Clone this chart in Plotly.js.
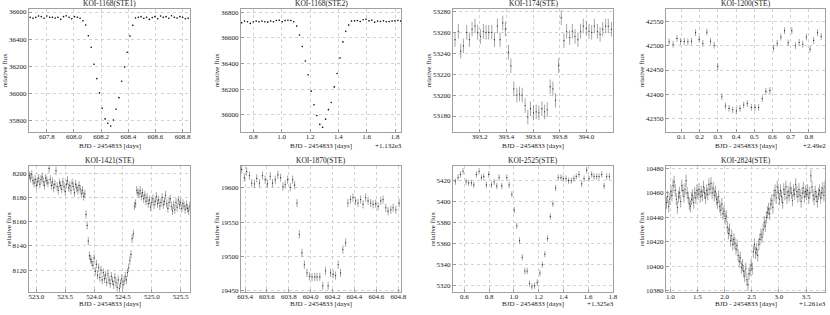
<!DOCTYPE html>
<html>
<head>
<meta charset="utf-8">
<script src="https://cdn.plot.ly/plotly-3.0.1.min.js"></script>
<style>html,body{margin:0;padding:0;background:#fff;}#chart{width:830px;height:315px;}</style>
</head>
<body>
<div id="chart"></div>
<script>
// ---------------- DATA ----------------
const titles = ['KOI-1168(STE1)','KOI-1168(STE2)','KOI-1174(STE)','KOI-1200(STE)',
                'KOI-1421(STE)','KOI-1870(STE)','KOI-2525(STE)','KOI-2824(STE)'];
const xLabel = 'BJD - 2454833 [days]';
const yLabel = 'relative flux';
const xOffsets = ['', '+1.132e3', '', '+2.49e2', '', '', '+1.325e3', '+1.261e3'];

const t1 = [607.678,607.698,607.719,607.739,607.760,607.780,607.800,607.821,607.841,607.862,607.882,607.902,607.923,607.943,607.964,607.984,608.004,608.025,608.045,608.066,608.086,608.106,608.127,608.147,608.168,608.188,608.208,608.229,608.249,608.270,608.290,608.310,608.331,608.351,608.372,608.392,608.412,608.433,608.453,608.474,608.494,608.514,608.535,608.555,608.576,608.596,608.616,608.637,608.657,608.678,608.698,608.718,608.739,608.759,608.780,608.800,608.820,608.841];
const f1 = [36561,36554,36561,36571,36566,36554,36571,36561,36561,36556,36561,36546,36566,36573,36561,36551,36566,36561,36554,36536,36505,36426,36341,36216,36111,36006,35893,35815,35783,35763,35807,35886,35971,36091,36196,36304,36424,36502,36556,36561,36566,36554,36561,36546,36559,36566,36551,36571,36561,36566,36554,36573,36561,36556,36566,36561,36551,36554];

const t2 = [0.718,0.738,0.759,0.779,0.800,0.820,0.840,0.861,0.881,0.902,0.922,0.942,0.963,0.983,1.004,1.024,1.044,1.065,1.085,1.106,1.126,1.146,1.167,1.187,1.208,1.228,1.248,1.269,1.289,1.310,1.330,1.350,1.371,1.391,1.412,1.432,1.452,1.473,1.493,1.514,1.534,1.554,1.575,1.595,1.616,1.636,1.656,1.677,1.697,1.718,1.738,1.758,1.779,1.799,1.820,1.840];
const f2 = [36718,36731,36726,36713,36726,36731,36726,36731,36726,36723,36731,36726,36736,36738,36726,36736,36738,36736,36726,36692,36623,36533,36420,36313,36185,36079,35995,35926,35903,35967,36041,36097,36218,36323,36444,36569,36651,36700,36731,36733,36736,36728,36741,36746,36733,36738,36723,36731,36728,36733,36726,36728,36731,36733,36736,36731];

const t3 = [393.015,393.040,393.058,393.078,393.103,393.123,393.143,393.165,393.185,393.206,393.228,393.248,393.268,393.291,393.311,393.333,393.353,393.373,393.393,393.416,393.434,393.456,393.479,393.499,393.519,393.541,393.561,393.581,393.604,393.624,393.644,393.667,393.687,393.707,393.729,393.749,393.769,393.792,393.812,393.832,393.852,393.875,393.895,393.915,393.937,393.957,393.977,394.000,394.020,394.040,394.060,394.083,394.103,394.123,394.145,394.165,394.188];
const f3 = [53253,53261,53242,53247,53260,53253,53263,53266,53260,53256,53261,53260,53260,53260,53253,53266,53253,53269,53263,53241,53228,53206,53200,53201,53200,53190,53179,53187,53183,53184,53183,53187,53184,53186,53208,53206,53195,53228,53274,53252,53261,53255,53261,53256,53253,53261,53266,53264,53261,53260,53266,53261,53258,53263,53266,53266,53263];

const t4 = [0.033,0.055,0.076,0.096,0.116,0.136,0.156,0.178,0.198,0.218,0.240,0.260,0.280,0.300,0.322,0.342,0.362,0.382,0.402,0.422,0.442,0.462,0.484,0.504,0.524,0.544,0.564,0.586,0.606,0.626,0.646,0.666,0.686,0.706,0.726,0.746,0.766,0.786,0.806,0.826,0.847,0.867];
const f4 = [42508,42503,42515,42509,42509,42508,42509,42527,42513,42505,42528,42509,42501,42457,42395,42376,42371,42368,42366,42371,42378,42381,42373,42373,42373,42391,42406,42408,42495,42505,42518,42531,42506,42531,42500,42507,42503,42518,42493,42511,42527,42519];

const t5 = [522.88,522.90,522.92,522.94,522.96,522.98,523.00,523.02,523.04,523.06,523.08,523.10,523.12,523.14,523.16,523.18,523.20,523.22,523.24,523.26,523.28,523.30,523.32,523.34,523.36,523.38,523.40,523.42,523.44,523.46,523.48,523.50,523.52,523.54,523.56,523.58,523.60,523.62,523.64,523.66,523.68,523.70,523.72,523.74,523.76,523.78,523.80,523.82,523.84,523.86,523.88,523.90,523.92,523.94,523.96,523.98,524.00,524.02,524.04,524.06,524.08,524.10,524.12,524.14,524.16,524.18,524.20,524.22,524.24,524.26,524.28,524.30,524.32,524.34,524.36,524.38,524.40,524.42,524.44,524.46,524.48,524.50,524.52,524.54,524.56,524.58,524.60,524.62,524.64,524.66,524.68,524.70,524.72,524.74,524.76,524.78,524.80,524.82,524.84,524.86,524.88,524.90,524.92,524.94,524.96,524.98,525.00,525.02,525.04,525.06,525.08,525.10,525.12,525.14,525.16,525.18,525.20,525.22,525.24,525.26,525.28,525.30,525.32,525.34,525.36,525.38,525.40,525.42,525.44,525.46,525.48,525.50,525.52,525.54,525.56,525.58,525.60,525.62,525.64,525.66];
const f5 = [8198,8196,8199,8194,8192,8195,8190,8193,8196,8191,8195,8197,8193,8190,8196,8194,8192,8204,8195,8190,8193,8188,8191,8202,8189,8186,8192,8190,8187,8193,8189,8185,8191,8194,8188,8190,8186,8192,8189,8184,8191,8188,8186,8190,8187,8183,8186,8181,8183,8166,8157,8144,8132,8129,8127,8124,8130,8119,8125,8116,8122,8114,8120,8112,8118,8113,8116,8110,8117,8112,8109,8115,8111,8108,8114,8110,8106,8112,8105,8109,8113,8108,8111,8115,8112,8118,8122,8128,8133,8146,8150,8173,8175,8186,8184,8183,8186,8181,8184,8179,8182,8177,8180,8175,8178,8172,8176,8179,8174,8177,8181,8175,8178,8173,8176,8180,8174,8177,8182,8175,8171,8176,8179,8173,8169,8174,8170,8176,8172,8178,8174,8176,8171,8175,8173,8170,8174,8171,8169,8173];

const t6 = [603.369,603.394,603.415,603.440,603.461,603.486,603.507,603.532,603.559,603.584,603.605,603.630,603.651,603.676,603.700,603.725,603.746,603.767,603.789,603.813,603.835,603.853,603.875,603.896,603.920,603.942,603.966,603.988,604.012,604.037,604.058,604.083,604.110,604.135,604.159,604.181,604.205,604.227,604.251,604.273,604.294,604.319,604.340,604.364,604.386,604.410,604.432,604.456,604.478,604.502,604.524,604.548,604.570,604.594,604.616,604.640,604.661,604.686,604.707,604.732,604.753,604.778,604.808];
const f6 = [19627,19615,19624,19618,19607,19606,19614,19607,19618,19612,19606,19617,19607,19612,19619,19615,19602,19605,19612,19601,19612,19604,19578,19532,19505,19488,19476,19471,19470,19470,19470,19470,19457,19479,19457,19476,19474,19472,19488,19476,19510,19520,19578,19583,19586,19581,19578,19583,19576,19586,19581,19578,19576,19577,19573,19581,19583,19571,19566,19568,19571,19568,19578];

const t7 = [0.527,0.549,0.568,0.589,0.614,0.635,0.657,0.676,0.697,0.719,0.738,0.757,0.778,0.797,0.819,0.841,0.862,0.881,0.903,0.943,0.962,0.984,1.003,1.024,1.046,1.068,1.089,1.108,1.127,1.146,1.168,1.189,1.211,1.230,1.251,1.273,1.295,1.316,1.338,1.359,1.381,1.400,1.422,1.443,1.465,1.486,1.505,1.527,1.549,1.568,1.589,1.608,1.630,1.649,1.670,1.689,1.711,1.730,1.751,1.773];
const f7 = [5419,5423,5426,5429,5419,5418,5418,5416,5426,5429,5423,5424,5416,5426,5416,5419,5415,5423,5415,5423,5416,5407,5392,5377,5363,5347,5334,5334,5322,5319,5320,5323,5332,5340,5350,5365,5386,5398,5413,5423,5423,5422,5422,5420,5420,5422,5424,5426,5417,5422,5430,5422,5426,5424,5424,5424,5426,5415,5424,5424];

const t8 = [0.93,0.95,0.97,0.99,1.01,1.03,1.05,1.07,1.09,1.11,1.13,1.15,1.17,1.19,1.21,1.23,1.25,1.27,1.29,1.31,1.33,1.35,1.37,1.39,1.41,1.43,1.45,1.47,1.49,1.51,1.53,1.55,1.57,1.59,1.61,1.63,1.65,1.67,1.69,1.71,1.73,1.75,1.77,1.79,1.81,1.83,1.85,1.87,1.89,1.91,1.93,1.95,1.97,1.99,2.01,2.03,2.05,2.07,2.09,2.11,2.13,2.15,2.17,2.19,2.21,2.23,2.25,2.27,2.29,2.31,2.33,2.35,2.37,2.39,2.41,2.43,2.45,2.47,2.49,2.51,2.53,2.55,2.57,2.59,2.61,2.63,2.65,2.67,2.69,2.71,2.73,2.75,2.77,2.79,2.81,2.83,2.85,2.87,2.89,2.91,2.93,2.95,2.97,2.99,3.01,3.03,3.05,3.07,3.09,3.11,3.13,3.15,3.17,3.19,3.21,3.23,3.25,3.27,3.29,3.31,3.33,3.35,3.37,3.39,3.41,3.43,3.45,3.47,3.49,3.51,3.53,3.55,3.57,3.59,3.61,3.63,3.65,3.67,3.69,3.71,3.73,3.75,3.77,3.79,3.81,3.83,3.85];
const f8 = [10452,10457,10449,10455,10461,10458,10466,10469,10462,10455,10448,10457,10460,10453,10466,10462,10457,10463,10470,10460,10456,10451,10449,10455,10458,10452,10460,10456,10462,10459,10463,10457,10461,10458,10465,10460,10456,10462,10459,10467,10463,10468,10460,10464,10458,10461,10455,10452,10457,10449,10446,10451,10443,10445,10439,10441,10432,10427,10430,10421,10425,10418,10422,10419,10414,10417,10409,10404,10407,10399,10401,10396,10392,10398,10389,10385,10394,10397,10401,10398,10412,10418,10411,10414,10409,10418,10422,10426,10424,10430,10436,10433,10440,10444,10447,10443,10451,10454,10448,10458,10462,10456,10465,10460,10455,10462,10457,10452,10463,10459,10465,10456,10461,10458,10464,10460,10454,10462,10459,10467,10461,10457,10463,10458,10453,10460,10464,10457,10461,10459,10462,10456,10460,10474,10465,10458,10455,10461,10457,10453,10459,10462,10456,10460,10464,10458,10465];

const fluxErr = [5, 5, 7, 7, 3.5, 6, 3, 5];

// ---------------- LAYOUT ----------------
const W = 830, H = 315;
const FONT = 'Liberation Serif';
const colPx = [[29,190],[241,401],[453,613],[666,825]];
const rowPx = [[9.3,131.7],[166,292]];
const xTitleY = [145.5, 304];

const axes = [
  {xr:[607.669,608.854], xt:[607.8,608.0,608.2,608.4,608.6,608.8], yr:[35721,36620], yt:[35800,36000,36200,36400,36600]},
  {xr:[0.713,1.842], xt:[0.8,1.0,1.2,1.4,1.6,1.8], yr:[35869,36823], yt:[36000,36200,36400,36600,36800]},
  {xr:[393.0,394.2], xt:[393.2,393.4,393.6,393.8,394.0], yr:[53165,53282], yt:[53180,53200,53220,53240,53260,53280]},
  {xr:[0.016,0.888], xt:[0.1,0.2,0.3,0.4,0.5,0.6,0.7,0.8], yr:[42323,42575], yt:[42350,42400,42450,42500,42550]},
  {xr:[522.872,525.663], xt:[523.0,523.5,524.0,524.5,525.0,525.5], yr:[8102,8206], yt:[8120,8140,8160,8180,8200]},
  {xr:[603.363,604.825], xt:[603.4,603.6,603.8,604.0,604.2,604.4,604.6,604.8], yr:[19448,19632], yt:[19450,19500,19550,19600]},
  {xr:[0.508,1.802], xt:[0.6,0.8,1.0,1.2,1.4,1.6,1.8], yr:[5314,5434], yt:[5320,5340,5360,5380,5400,5420]},
  {xr:[0.92,3.85], xt:[1.0,1.5,2.0,2.5,3.0,3.5], yr:[10379,10482], yt:[10380,10400,10420,10440,10460,10480]}
];

const times = [t1,t2,t3,t4,t5,t6,t7,t8];
const fluxes = [f1,f2,f3,f4,f5,f6,f7,f8];

const data = [];
const layout = {
  width: W, height: H,
  margin: {l:0, r:0, t:0, b:0},
  paper_bgcolor: '#fff', plot_bgcolor: '#fff',
  showlegend: false,
  font: {family: FONT, size: 7, color: '#222'},
  annotations: []
};

for (let i = 0; i < 8; i++) {
  const r = Math.floor(i / 4), c = i % 4, n = i + 1;
  const sx = n === 1 ? '' : String(n);
  const xd = [colPx[c][0] / W, colPx[c][1] / W];
  const yd = [1 - rowPx[r][1] / H, 1 - rowPx[r][0] / H];
  const small = (i < 2);
  data.push({
    type: 'scatter', mode: 'markers',
    x: times[i], y: fluxes[i],
    xaxis: 'x' + sx, yaxis: 'y' + sx,
    marker: {size: small ? 1.6 : 1.2, color: small ? '#111' : '#222'},
    error_y: {type: 'constant', value: fluxErr[i], color: small ? '#999' : '#808080', thickness: 0.7, width: 0},
    hoverinfo: 'skip'
  });
  const a = axes[i];
  const common = {
    showline: true, mirror: true, linecolor: '#a0a0a0', linewidth: 1,
    showgrid: true, gridcolor: '#d2d2d2', griddash: 'dot', gridwidth: 1,
    zeroline: false, ticks: 'inside', ticklen: 3, tickcolor: '#888', tickwidth: 0.8,
    tickfont: {family: FONT, size: 7, color: '#222'}, automargin: false
  };
  layout['xaxis' + sx] = Object.assign({}, common, {
    domain: xd, anchor: 'y' + sx, range: a.xr, ticklabelstandoff: -2,
    tickmode: 'array', tickvals: a.xt, ticktext: a.xt.map(v => v.toFixed(1))
  });
  layout['yaxis' + sx] = Object.assign({}, common, {
    domain: yd, anchor: 'x' + sx, range: a.yr,
    tickmode: 'array', tickvals: a.yt, ticktext: a.yt.map(v => String(v)),
    title: {text: yLabel, font: {family: FONT, size: 7, color: '#222'}, standoff: 0}
  });
  // subplot title
  layout.annotations.push({
    text: titles[i], xref: 'paper', yref: 'paper',
    x: (xd[0] + xd[1]) / 2, y: yd[1], xanchor: 'center', yanchor: 'bottom',
    yshift: -1, showarrow: false, font: {family: FONT, size: 7.5, color: '#222'}
  });
  // x-axis label
  layout.annotations.push({
    text: xLabel, xref: 'paper', yref: 'paper',
    x: (xd[0] + xd[1]) / 2, y: 1 - xTitleY[r] / H, xanchor: 'center', yanchor: 'middle',
    showarrow: false, font: {family: FONT, size: 7, color: '#222'}
  });
  if (xOffsets[i]) {
    layout.annotations.push({
      text: xOffsets[i], xref: 'paper', yref: 'paper',
      x: xd[1], y: 1 - xTitleY[r] / H, xanchor: 'right', yanchor: 'middle',
      xshift: 3, showarrow: false, font: {family: FONT, size: 7, color: '#222'}
    });
  }
}

Plotly.newPlot('chart', data, layout, {staticPlot: true, displayModeBar: false});
</script>
</body>
</html>
